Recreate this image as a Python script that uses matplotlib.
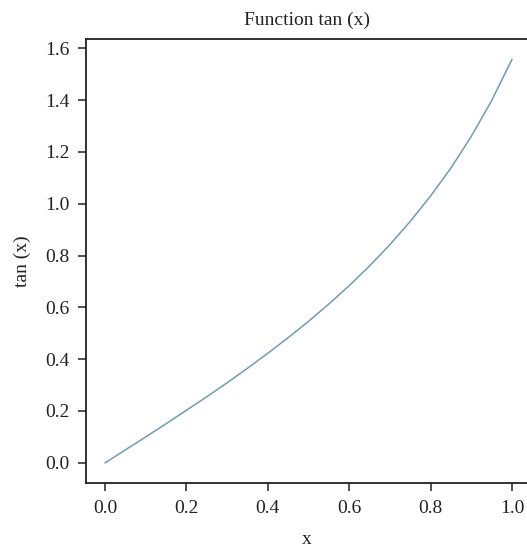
import matplotlib
matplotlib.use("Agg")
import matplotlib.pyplot as plt

x_vals = [0.0, 0.05, 0.1, 0.15, 0.2, 0.25, 0.3, 0.35, 0.4, 0.45, 0.5,
          0.55, 0.6, 0.65, 0.7, 0.75, 0.8, 0.85, 0.9, 0.95, 1.0]
y_vals = [0.0, 0.050, 0.100, 0.151, 0.203, 0.255, 0.309, 0.365, 0.423, 0.483, 0.546,
          0.613, 0.684, 0.760, 0.842, 0.932, 1.030, 1.138, 1.260, 1.398, 1.557]
x_ticks = [0.0, 0.2, 0.4, 0.6, 0.8, 1.0]
y_ticks = [0.0, 0.2, 0.4, 0.6, 0.8, 1.0, 1.2, 1.4, 1.6]

plt.rcParams['font.family'] = ['Liberation Serif', 'DejaVu Serif']

W, H = 527, 554
fig = plt.figure(figsize=(W / 100, H / 100), dpi=100)
left, right, top, bottom = 86, 527, 39, 483
ax = fig.add_axes([left / W, 1 - bottom / H, (right - left) / W, (bottom - top) / H])

ax.plot(x_vals, y_vals, color='#6e9cb3', lw=1.1)
ax.set_xlim(-0.047, 1.037)
ax.set_ylim(-0.078, 1.636)
ax.set_xticks(x_ticks)
ax.set_xticklabels([f"{t:.1f}" for t in x_ticks])
ax.set_yticks(y_ticks)
ax.set_yticklabels([f"{t:.1f}" for t in y_ticks])
ax.spines['right'].set_visible(False)
for s in ['left', 'top', 'bottom']:
    ax.spines[s].set_linewidth(1.3)
    ax.spines[s].set_color('#222222')
ax.tick_params(direction='out', length=6, width=1.1, labelsize=14, pad=6, color='#222222', labelcolor='#222222')
ax.set_title('Function tan (x)', fontsize=14, pad=10, color='#222222')
ax.set_xlabel('x', fontsize=14, labelpad=10, color='#222222')
ax.set_ylabel('tan (x)', fontsize=14, labelpad=10, color='#222222')

fig.savefig('out.png', dpi=100)
